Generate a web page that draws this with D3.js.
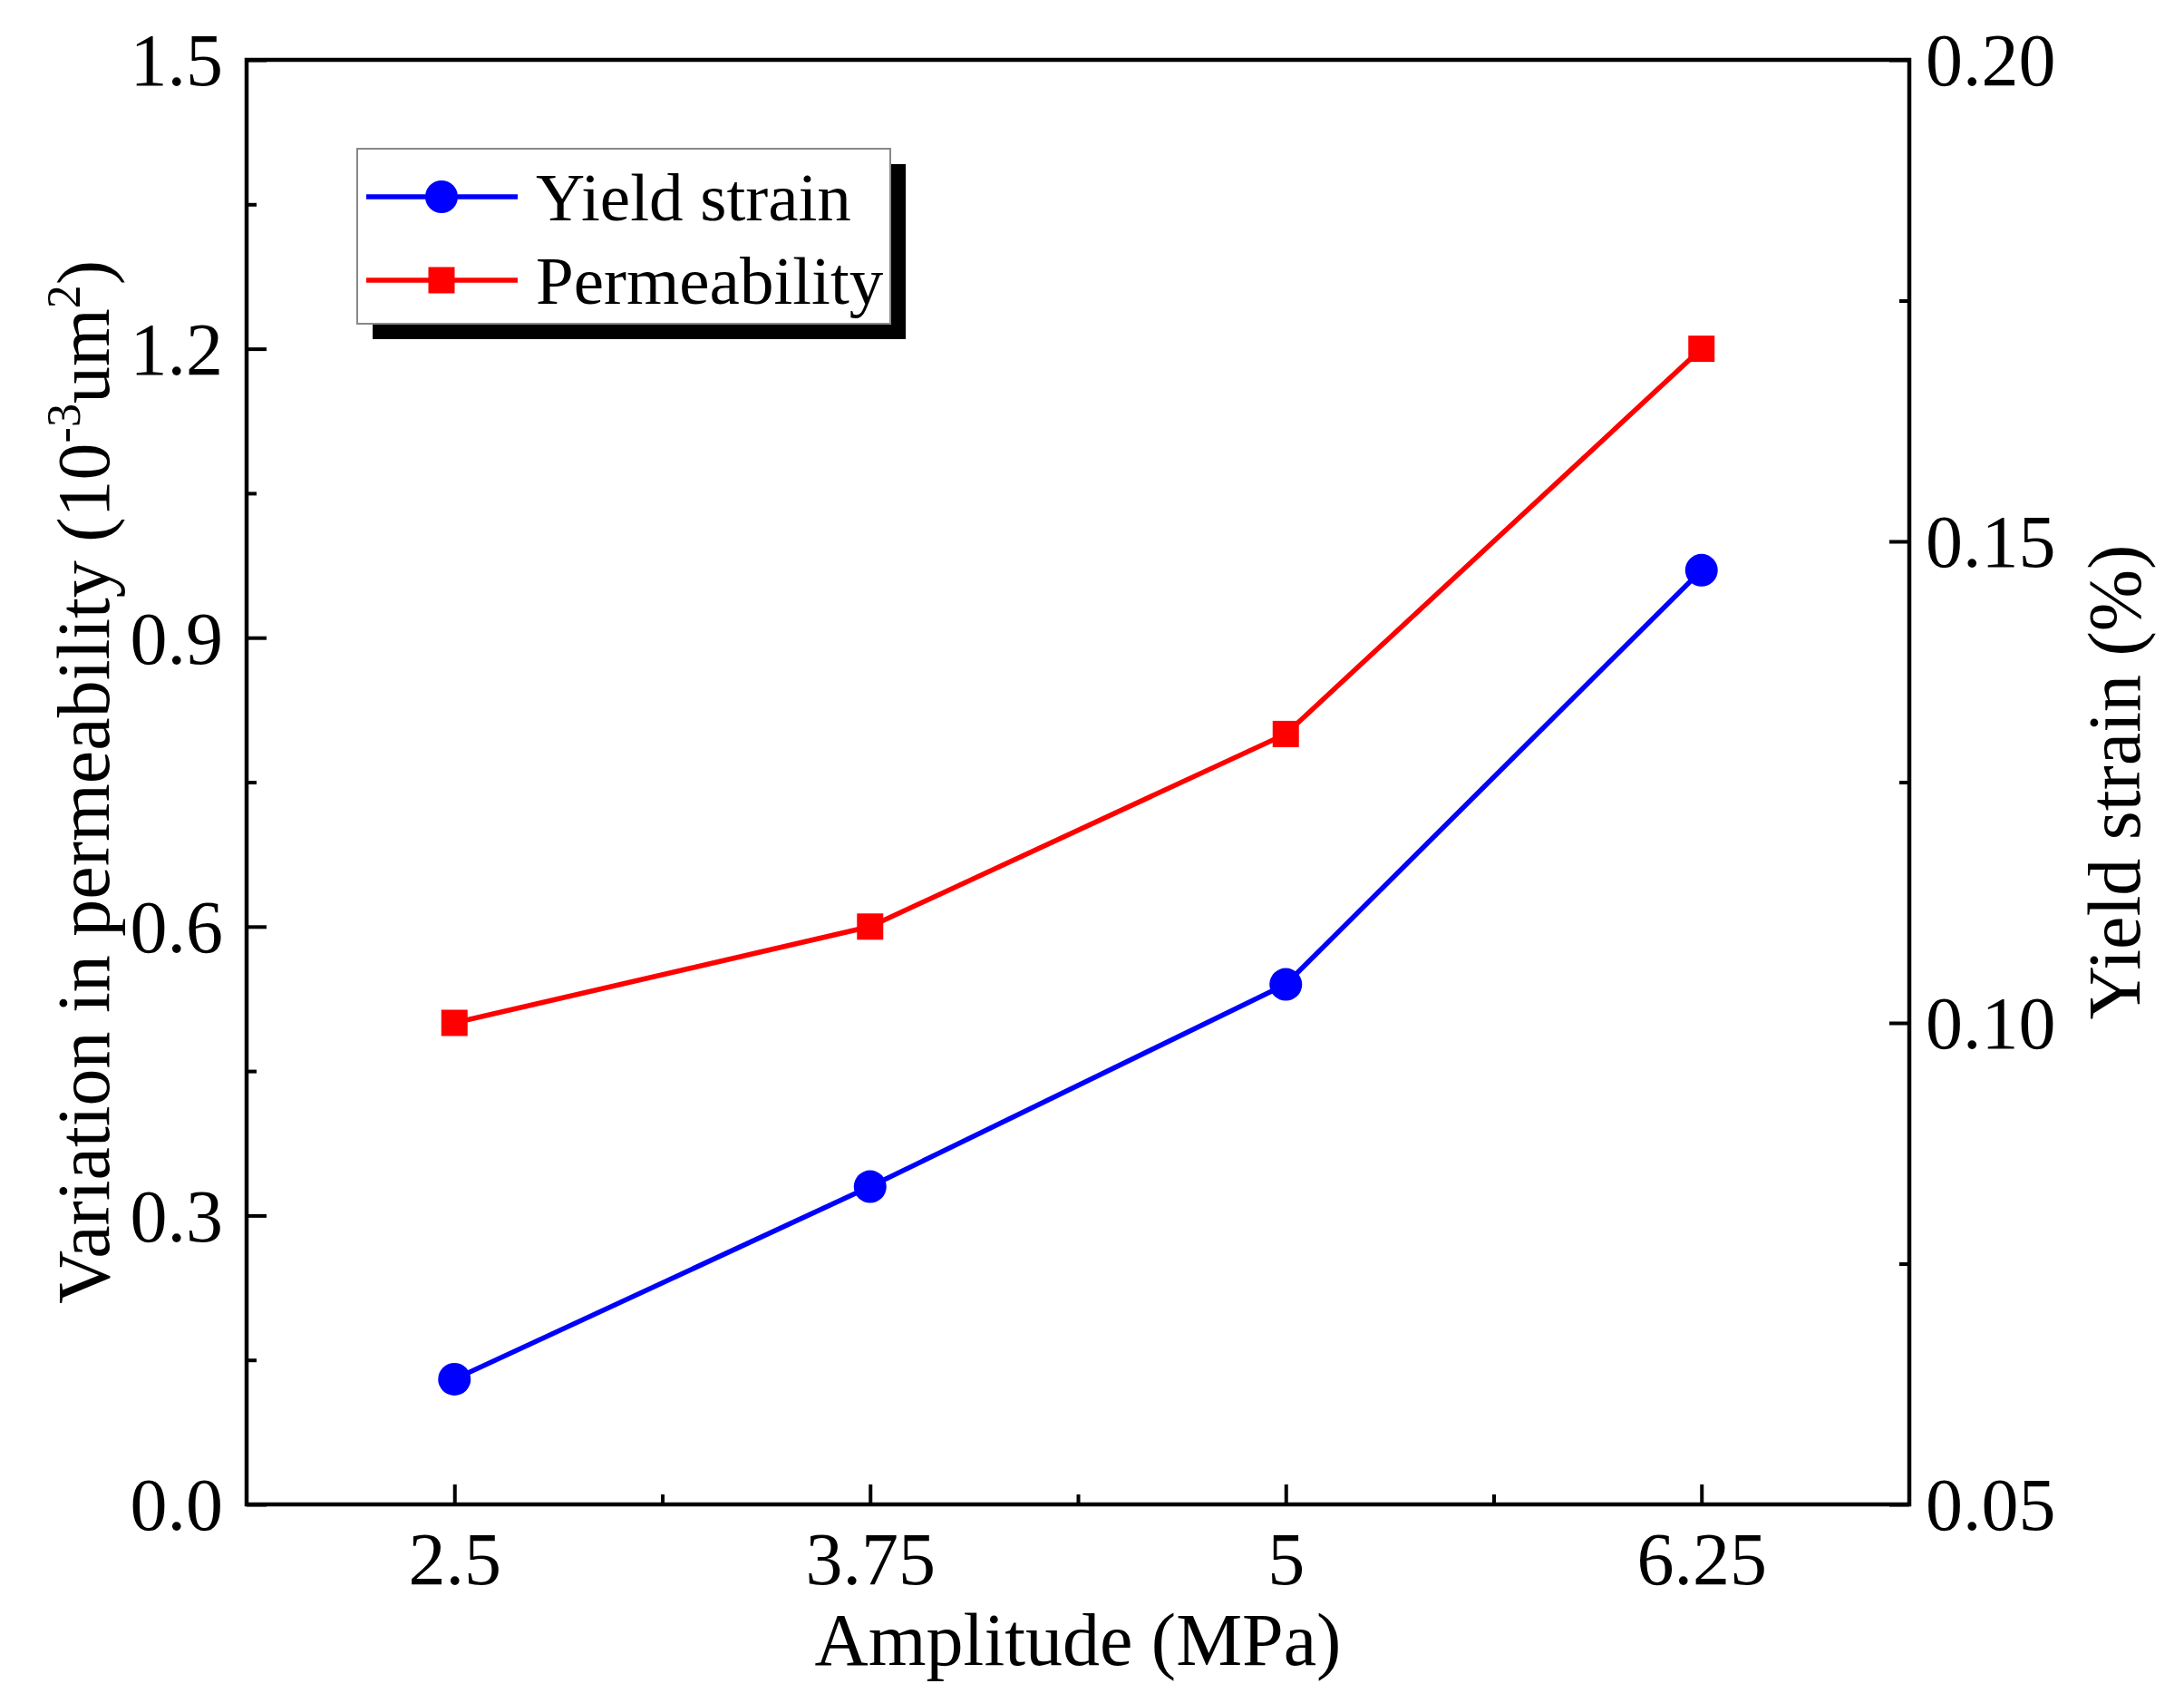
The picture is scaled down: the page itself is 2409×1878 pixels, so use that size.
<!DOCTYPE html>
<html>
<head>
<meta charset="utf-8">
<script src="https://cdn.jsdelivr.net/npm/d3@7"></script>
<style>
  html, body { margin: 0; padding: 0; background: #fff; }
  svg { display: block; }
  text { font-family: "Liberation Serif", "Times New Roman", serif; fill: #000; }
</style>
</head>
<body>
<svg id="chart" width="2409" height="1878"></svg>
<script>
// ---- data ----
const amplitudes = [2.5, 3.75, 5, 6.25];
const xTickLabels = ["2.5", "3.75", "5", "6.25"];
const permeability = [0.5, 0.6, 0.8, 1.2];          // left axis (10^-3 um^2)
const yieldStrain = [0.063, 0.083, 0.104, 0.147];   // right axis (%)
const leftTicks = [0.0, 0.3, 0.6, 0.9, 1.2, 1.5];
const rightTicks = [0.05, 0.10, 0.15, 0.20];
const seriesNames = ["Yield strain", "Permeability"];

// ---- layout ----
const svg = d3.select("#chart");
const L = 272, R = 2106, T = 66, B = 1659;
const FS = 82;

const x = d3.scaleLinear().domain([1.875, 6.875]).range([L, R]);
const yL = d3.scaleLinear().domain([0, 1.5]).range([B, T]);
const yR = d3.scaleLinear().domain([0.05, 0.20]).range([B, T]);

const blue = "#0000ff", red = "#ff0000";
const LW = 5.5;

function styleAxis(g) {
  g.select(".domain").remove();
  g.selectAll(".tick line").attr("stroke", "#000").attr("stroke-width", 4);
  g.selectAll(".tick text").attr("font-size", FS).attr("font-family", "Liberation Serif, serif");
}

// x axis
const gx = svg.append("g").attr("transform", `translate(0,${B})`)
  .call(d3.axisBottom(x).tickValues(amplitudes)
    .tickFormat((d, i) => xTickLabels[i]).tickSize(-22).tickPadding(30));
styleAxis(gx);
gx.selectAll(".tick text").attr("dy", "0.71em");
svg.append("g").attr("transform", `translate(0,${B})`)
  .call(d3.axisBottom(x).tickValues([3.125, 4.375, 5.625]).tickFormat("").tickSize(-11))
  .call(styleAxis);

// left axis
const gl = svg.append("g").attr("transform", `translate(${L},0)`)
  .call(d3.axisLeft(yL).tickValues(leftTicks).tickFormat(d3.format(".1f"))
    .tickSize(-22).tickPadding(26));
styleAxis(gl);
gl.selectAll(".tick text").attr("dy", "0.34em");
svg.append("g").attr("transform", `translate(${L},0)`)
  .call(d3.axisLeft(yL).tickValues([0.15, 0.45, 0.75, 1.05, 1.35]).tickFormat("").tickSize(-11))
  .call(styleAxis);

// right axis
const gr = svg.append("g").attr("transform", `translate(${R},0)`)
  .call(d3.axisRight(yR).tickValues(rightTicks).tickFormat(d3.format(".2f"))
    .tickSize(-22).tickPadding(18));
styleAxis(gr);
gr.selectAll(".tick text").attr("dy", "0.34em");
svg.append("g").attr("transform", `translate(${R},0)`)
  .call(d3.axisRight(yR).tickValues([0.075, 0.125, 0.175]).tickFormat("").tickSize(-11))
  .call(styleAxis);

// frame
svg.append("rect").attr("x", L).attr("y", T).attr("width", R - L).attr("height", B - T)
  .attr("fill", "none").attr("stroke", "#000").attr("stroke-width", 4.5);

// lines
const lineL = d3.line().x((d, i) => x(amplitudes[i])).y(d => yL(d));
const lineR = d3.line().x((d, i) => x(amplitudes[i])).y(d => yR(d));

svg.append("path").datum(permeability).attr("d", lineL)
  .attr("fill", "none").attr("stroke", red).attr("stroke-width", LW);
svg.append("path").datum(yieldStrain).attr("d", lineR)
  .attr("fill", "none").attr("stroke", blue).attr("stroke-width", LW);

const sq = 29;
svg.selectAll("rect.perm").data(permeability).enter().append("rect")
  .attr("x", (d, i) => x(amplitudes[i]) - sq / 2).attr("y", d => yL(d) - sq / 2)
  .attr("width", sq).attr("height", sq).attr("fill", red);
svg.selectAll("circle.ys").data(yieldStrain).enter().append("circle")
  .attr("cx", (d, i) => x(amplitudes[i])).attr("cy", d => yR(d))
  .attr("r", 18).attr("fill", blue);

// axis titles
svg.append("text").attr("x", (L + R) / 2).attr("y", 1836)
  .attr("text-anchor", "middle").attr("font-size", FS).text("Amplitude (MPa)");

const lt = svg.append("text").attr("transform", `translate(120,${(T + B) / 2}) rotate(-90)`)
  .attr("text-anchor", "middle").attr("font-size", FS);
lt.append("tspan").text("Variation in permeability (10");
lt.append("tspan").attr("font-size", 52).attr("dy", -32).text("-3");
lt.append("tspan").attr("dy", 32).text("um");
lt.append("tspan").attr("font-size", 52).attr("dy", -32).text("2");
lt.append("tspan").attr("dy", 32).text(")");

svg.append("text").attr("transform", `translate(2360,${(T + B) / 2}) rotate(-90)`)
  .attr("text-anchor", "middle").attr("font-size", FS).text("Yield strain (%)");

// legend
const lg = { x: 394, y: 164, w: 588, h: 193, off: 17 };
svg.append("rect").attr("x", lg.x + lg.off).attr("y", lg.y + lg.off)
  .attr("width", lg.w).attr("height", lg.h).attr("fill", "#000");
svg.append("rect").attr("x", lg.x).attr("y", lg.y).attr("width", lg.w).attr("height", lg.h)
  .attr("fill", "#fff").attr("stroke", "#888").attr("stroke-width", 2);

const rows = [
  { name: seriesNames[0], color: blue, shape: "circle", y: 217 },
  { name: seriesNames[1], color: red, shape: "square", y: 309 }
];
rows.forEach(r => {
  svg.append("line").attr("x1", 404).attr("x2", 571).attr("y1", r.y).attr("y2", r.y)
    .attr("stroke", r.color).attr("stroke-width", LW);
  if (r.shape === "circle") {
    svg.append("circle").attr("cx", 487).attr("cy", r.y).attr("r", 18).attr("fill", r.color);
  } else {
    svg.append("rect").attr("x", 487 - sq / 2).attr("y", r.y - sq / 2)
      .attr("width", sq).attr("height", sq).attr("fill", r.color);
  }
  svg.append("text").attr("x", 591).attr("y", r.y + 26).attr("font-size", 75).text(r.name);
});
</script>
</body>
</html>
